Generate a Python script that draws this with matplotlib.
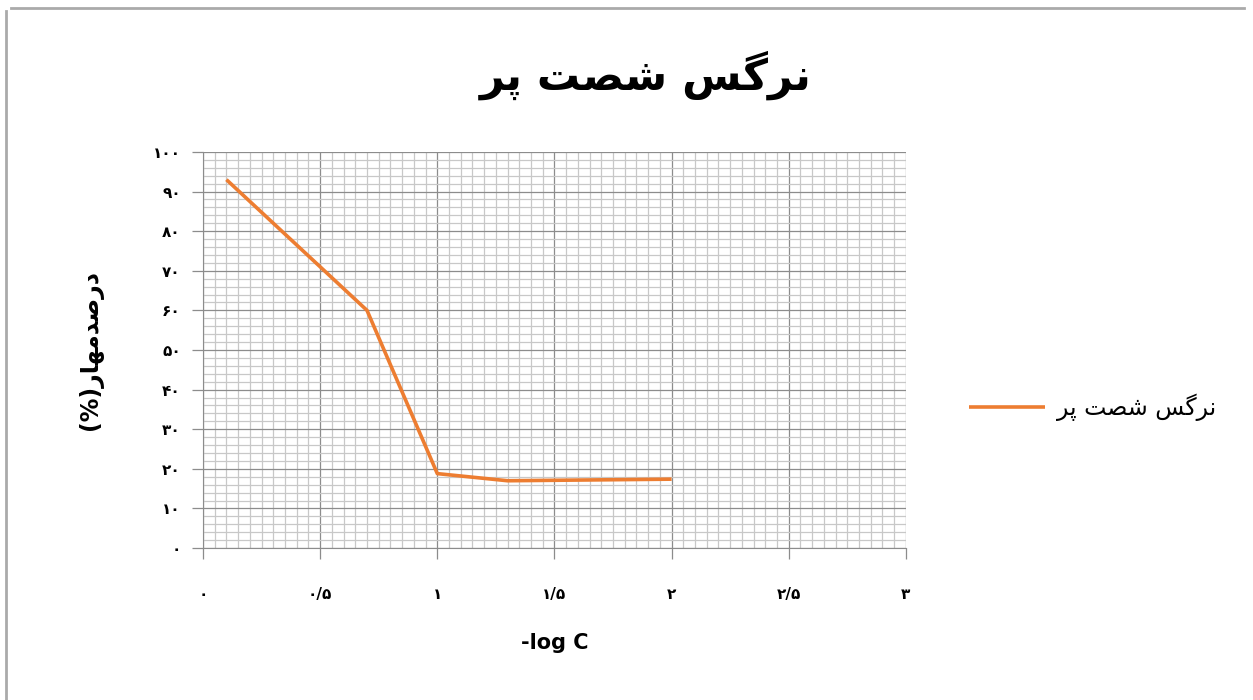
import numpy as np
import matplotlib.pyplot as plt
from matplotlib.ticker import MultipleLocator

plt.rcParams['font.family'] = ['DejaVu Sans']

# data
x_vals = [0.1, 0.7, 1.0, 1.3, 2.0]
y_vals = [93, 60, 18.8, 17, 17.4]

# Persian text, pre-shaped (presentation forms) and in visual order
title_txt = '\ufeae\ufb58 \ufe96\ufebc\ufeb7 \ufeb2\ufb94\ufeae\ufee7'
ylabel_txt = '(%)\ufead\ufe8e\ufeec\ufee3\ufeaa\ufebb\ufead\ufea9'
xlabel_txt = '-log C'

yticks = [0, 10, 20, 30, 40, 50, 60, 70, 80, 90, 100]
ytick_labels = ['\u06f0', '\u06f1\u06f0', '\u06f2\u06f0', '\u06f3\u06f0', '\u06f4\u06f0',
                '\u06f5\u06f0', '\u06f6\u06f0', '\u06f7\u06f0', '\u06f8\u06f0', '\u06f9\u06f0',
                '\u06f1\u06f0\u06f0']
xticks = [0, 0.5, 1, 1.5, 2, 2.5, 3]
xtick_labels = ['\u06f0', '\u06f0/\u06f5', '\u06f1', '\u06f1/\u06f5', '\u06f2', '\u06f2/\u06f5', '\u06f3']

fig = plt.figure(figsize=(12.53, 7), dpi=100)
ax = fig.add_axes([0.162, 0.217, 0.561, 0.566])

ax.plot(x_vals, y_vals, color='#ED7D31', lw=2.6, label=title_txt, solid_capstyle='butt')

ax.set_xlim(0, 3)
ax.set_ylim(0, 100)
ax.set_xticks(xticks)
ax.set_xticklabels(xtick_labels, fontsize=11, fontweight='bold')
ax.set_yticks(yticks)
ax.set_yticklabels(ytick_labels, fontsize=11, fontweight='bold')
ax.xaxis.set_minor_locator(MultipleLocator(0.05))
ax.yaxis.set_minor_locator(MultipleLocator(2))
ax.grid(which='minor', color='#c8c8c8', lw=0.9)
ax.grid(which='major', color='#8c8c8c', lw=0.9)
ax.set_axisbelow(True)
ax.tick_params(which='major', length=8, color='#8c8c8c', width=0.9)
ax.tick_params(axis='x', which='major', pad=20)
ax.tick_params(axis='y', which='major', pad=8)
ax.tick_params(which='minor', length=0)
for s in ax.spines.values():
    s.set_visible(False)
ax.spines['left'].set_visible(True)
ax.spines['bottom'].set_visible(True)
ax.spines['left'].set_color('#8c8c8c')
ax.spines['bottom'].set_color('#8c8c8c')

ax.set_xlabel(xlabel_txt, fontsize=15, fontweight='bold', labelpad=22)
ax.set_ylabel(ylabel_txt, fontsize=17, fontweight='bold', labelpad=36)

fig.text(0.515, 0.893, title_txt, fontsize=31, fontweight='bold', ha='center', va='center')

ax.legend(loc='center left', bbox_to_anchor=(1.06, 0.355), frameon=False,
          fontsize=17, handlelength=3.2, handletextpad=0.5)

# outer border (top and left)
fig.add_artist(plt.Line2D([0.009, 0.993], [0.989, 0.989], color='#aaaaaa', lw=2,
                          transform=fig.transFigure))
fig.add_artist(plt.Line2D([0.005, 0.005], [0.0, 0.985], color='#aaaaaa', lw=2,
                          transform=fig.transFigure))

fig.savefig('out.png', dpi=100)
